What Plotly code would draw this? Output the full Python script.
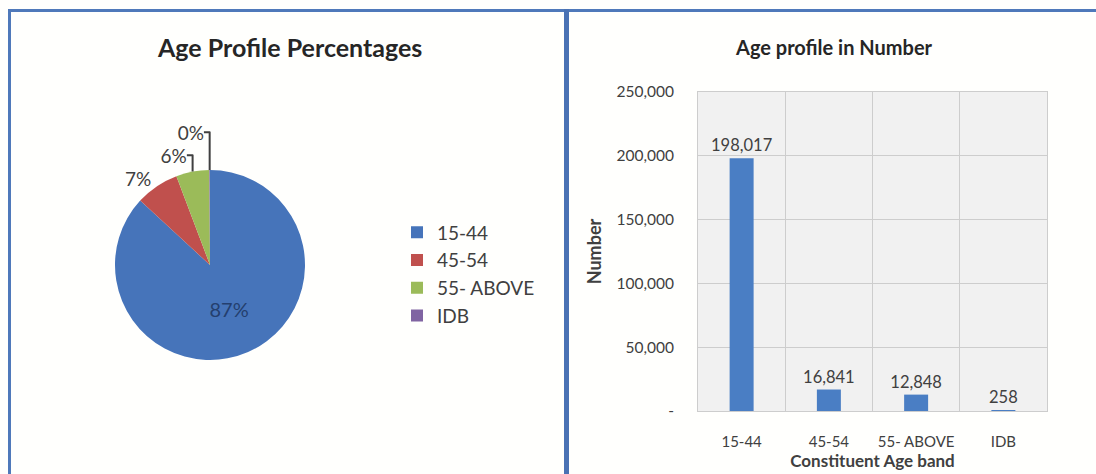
import plotly.graph_objects as go

# ---- data ----
categories = ["15-44", "45-54", "55- ABOVE", "IDB"]
counts = [198017, 16841, 12848, 258]
slice_colors = ["#4674BA", "#C0504D", "#9BBB59", "#8064A2"]
bar_color = "#4A7EC4"
y_tickvals = [0, 50000, 100000, 150000, 200000, 250000]
y_ticktext = ["-", "50,000", "100,000", "150,000", "200,000", "250,000"]

W, H = 1096, 474
FONT = "Lato, 'Open Sans', sans-serif"
TXT = "#404040"


def px_x(x):
    return x / W


def px_y(y):
    return (H - y) / H


fig = go.Figure()

fig.add_trace(go.Pie(
    labels=categories,
    values=counts,
    sort=False,
    direction="clockwise",
    rotation=0,
    marker=dict(colors=slice_colors, line=dict(width=0)),
    texttemplate="%{percent:.0%}",
    textposition=["inside", "outside", "outside", "outside"],
    insidetextfont=dict(color="#243F6E", size=20, family=FONT),
    outsidetextfont=dict(color=TXT, size=19, family=FONT),
    domain=dict(x=[px_x(115), px_x(305)], y=[px_y(360), px_y(170)]),
    showlegend=True,
    hoverinfo="label+value+percent",
    automargin=False,
))

fig.add_trace(go.Bar(
    x=categories,
    y=counts,
    marker=dict(color=bar_color, line=dict(width=0)),
    width=0.275,
    text=[f"{v:,}" for v in counts],
    textposition="outside",
    constraintext="none",
    textfont=dict(color=TXT, size=16.5, family=FONT),
    cliponaxis=False,
    showlegend=False,
    xaxis="x", yaxis="y",
))

fig.update_layout(
    width=W, height=H,
    margin=dict(l=0, r=0, t=0, b=0, autoexpand=False),
    paper_bgcolor="#fffffd",
    plot_bgcolor="#f1f1f1",
    font=dict(family=FONT, color=TXT, size=15),
    legend=dict(
        x=px_x(397), y=px_y(274), xanchor="left", yanchor="middle",
        font=dict(size=19, color=TXT, family=FONT),
        bgcolor="rgba(0,0,0,0)",
    ),
    xaxis=dict(
        domain=[px_x(698), px_x(1047)],
        anchor="y",
        type="category",
        tickson="boundaries",
        tickangle=0,
        automargin=False,
        showgrid=True, gridcolor="#cdcdcd", gridwidth=1,
        ticks="", ticklabelstandoff=17,
        tickfont=dict(size=15, color=TXT, family=FONT),
        showline=True, linecolor="#cdcdcd", mirror=True,
        zeroline=False,
        title=dict(text="<b>Constituent Age band</b>", standoff=6,
                   font=dict(size=17, color=TXT, family=FONT)),
    ),
    yaxis=dict(
        domain=[px_y(411), px_y(92)],
        anchor="x",
        range=[0, 250000],
        tickvals=y_tickvals,
        ticktext=y_ticktext,
        automargin=False,
        showgrid=True, gridcolor="#cdcdcd", gridwidth=1,
        ticks="", ticklabelstandoff=20,
        tickfont=dict(size=15.5, color=TXT, family=FONT),
        showline=True, linecolor="#cdcdcd", mirror=True,
        zeroline=False,
        title=dict(text="<b>Number</b>", standoff=10,
                   font=dict(size=18, color=TXT, family=FONT)),
    ),
    annotations=[
        dict(text="<b>Age Profile Percentages</b>", x=px_x(289), y=px_y(47),
             xref="paper", yref="paper", xanchor="center", yanchor="middle",
             showarrow=False,
             font=dict(size=25, color="#262626", family=FONT)),
        dict(text="<b>Age profile in Number</b>", x=px_x(834), y=px_y(47),
             xref="paper", yref="paper", xanchor="center", yanchor="middle",
             showarrow=False,
             font=dict(size=20, color="#262626", family=FONT)),
    ],
    shapes=[
        dict(type="line", xref="paper", yref="paper",
             x0=px_x(8), x1=1, y0=px_y(10.5), y1=px_y(10.5),
             line=dict(color="#4F79BA", width=3)),
        dict(type="line", xref="paper", yref="paper",
             x0=px_x(9.5), x1=px_x(9.5), y0=px_y(9), y1=0,
             line=dict(color="#4F79BA", width=3)),
        dict(type="line", xref="paper", yref="paper",
             x0=px_x(566.5), x1=px_x(566.5), y0=px_y(9), y1=0,
             line=dict(color="#4A72B4", width=5)),
    ],
)

fig.write_html("out.html")
